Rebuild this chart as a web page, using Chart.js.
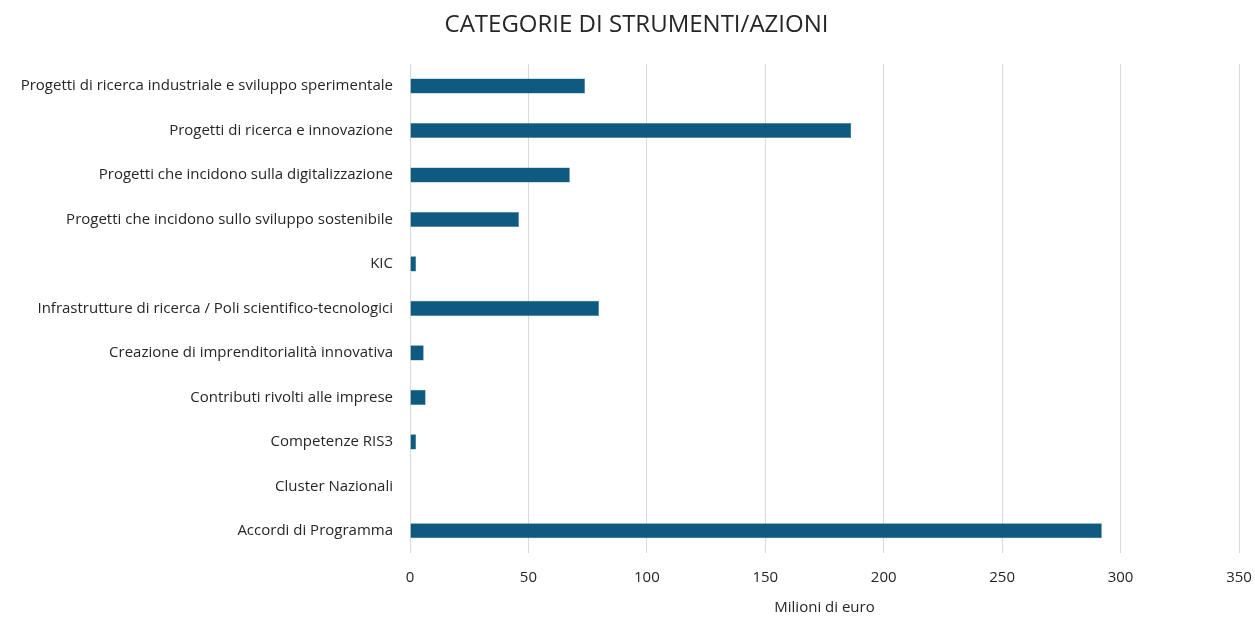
<!DOCTYPE html>
<html>
<head>
<meta charset="utf-8">
<script src="https://cdn.jsdelivr.net/npm/chart.js@4/dist/chart.umd.min.js"></script>
<style>
	html, body { margin: 0; padding: 0; background: #fff; }
	#wrap { width: 1255px; height: 617px; }
</style>
</head>
<body>
<div id="wrap"><canvas id="chart" width="1255" height="617"></canvas></div>
<script>
// categorie e valori (milioni di euro)
const categories = [
	'Progetti di ricerca industriale e sviluppo sperimentale',
	'Progetti di ricerca e innovazione',
	'Progetti che incidono sulla digitalizzazione',
	'Progetti che incidono sullo sviluppo sostenibile',
	'KIC',
	'Infrastrutture di ricerca / Poli scientifico-tecnologici',
	'Creazione di imprenditorialità innovativa',
	'Contributi rivolti alle imprese',
	'Competenze RIS3',
	'Cluster Nazionali',
	'Accordi di Programma'
];
const values = [73.9, 186.3, 67.5, 46, 2.6, 79.8, 5.8, 6.6, 2.6, 0, 292.1];
const xTicks = [0, 50, 100, 150, 200, 250, 300, 350];

const textColor = '#262626';
const fontFamily = '"Open Sans", sans-serif';

// le etichette lunghe escono dal margine sinistro: allarga l'area di clip dell'asse y
const widenLabels = {
	id: 'widenLabels',
	afterLayout: chart => { chart.scales.y.left = 0; }
};

const chart = new Chart(document.getElementById('chart'), {
	type: 'bar',
	data: {
		labels: categories,
		datasets: [{
			data: values,
			backgroundColor: '#0E5B7F',
			borderColor: '#3f7e9c',
			borderWidth: 0.5,
			categoryPercentage: 1,
			barPercentage: 0.34
		}]
	},
	plugins: [widenLabels],
	options: {
		indexAxis: 'y',
		responsive: false,
		animation: false,
		layout: { padding: { left: 34, right: 16, top: 11, bottom: 0 } },
		plugins: {
			legend: { display: false },
			tooltip: { enabled: false },
			title: {
				display: true,
				text: 'CATEGORIE DI STRUMENTI/AZIONI',
				color: textColor,
				font: { family: fontFamily, size: 24, weight: 'normal' },
				padding: { top: 0, bottom: 24 }
			}
		},
		scales: {
			x: {
				min: 0,
				max: 350,
				afterBuildTicks: axis => { axis.ticks = xTicks.map(v => ({ value: v })); },
				afterFit: axis => { axis.paddingLeft = 0; axis.paddingRight = 0; },
				grid: { color: '#d9d9d9', lineWidth: 1, drawTicks: false },
				border: { display: false },
				ticks: {
					color: textColor,
					padding: 16,
					font: { family: fontFamily, size: 15 }
				},
				title: {
					display: true,
					text: 'Milioni di euro',
					color: textColor,
					font: { family: fontFamily, size: 15 },
					padding: { top: -4, bottom: 0 }
				}
			},
			y: {
				afterFit: axis => { axis.width = 376; },
				grid: { display: false, drawTicks: false },
				border: { display: false },
				ticks: {
					color: textColor,
					padding: 17,
					autoSkip: false,
					font: { family: fontFamily, size: 15 }
				}
			}
		}
	}
});
</script>
</body>
</html>
